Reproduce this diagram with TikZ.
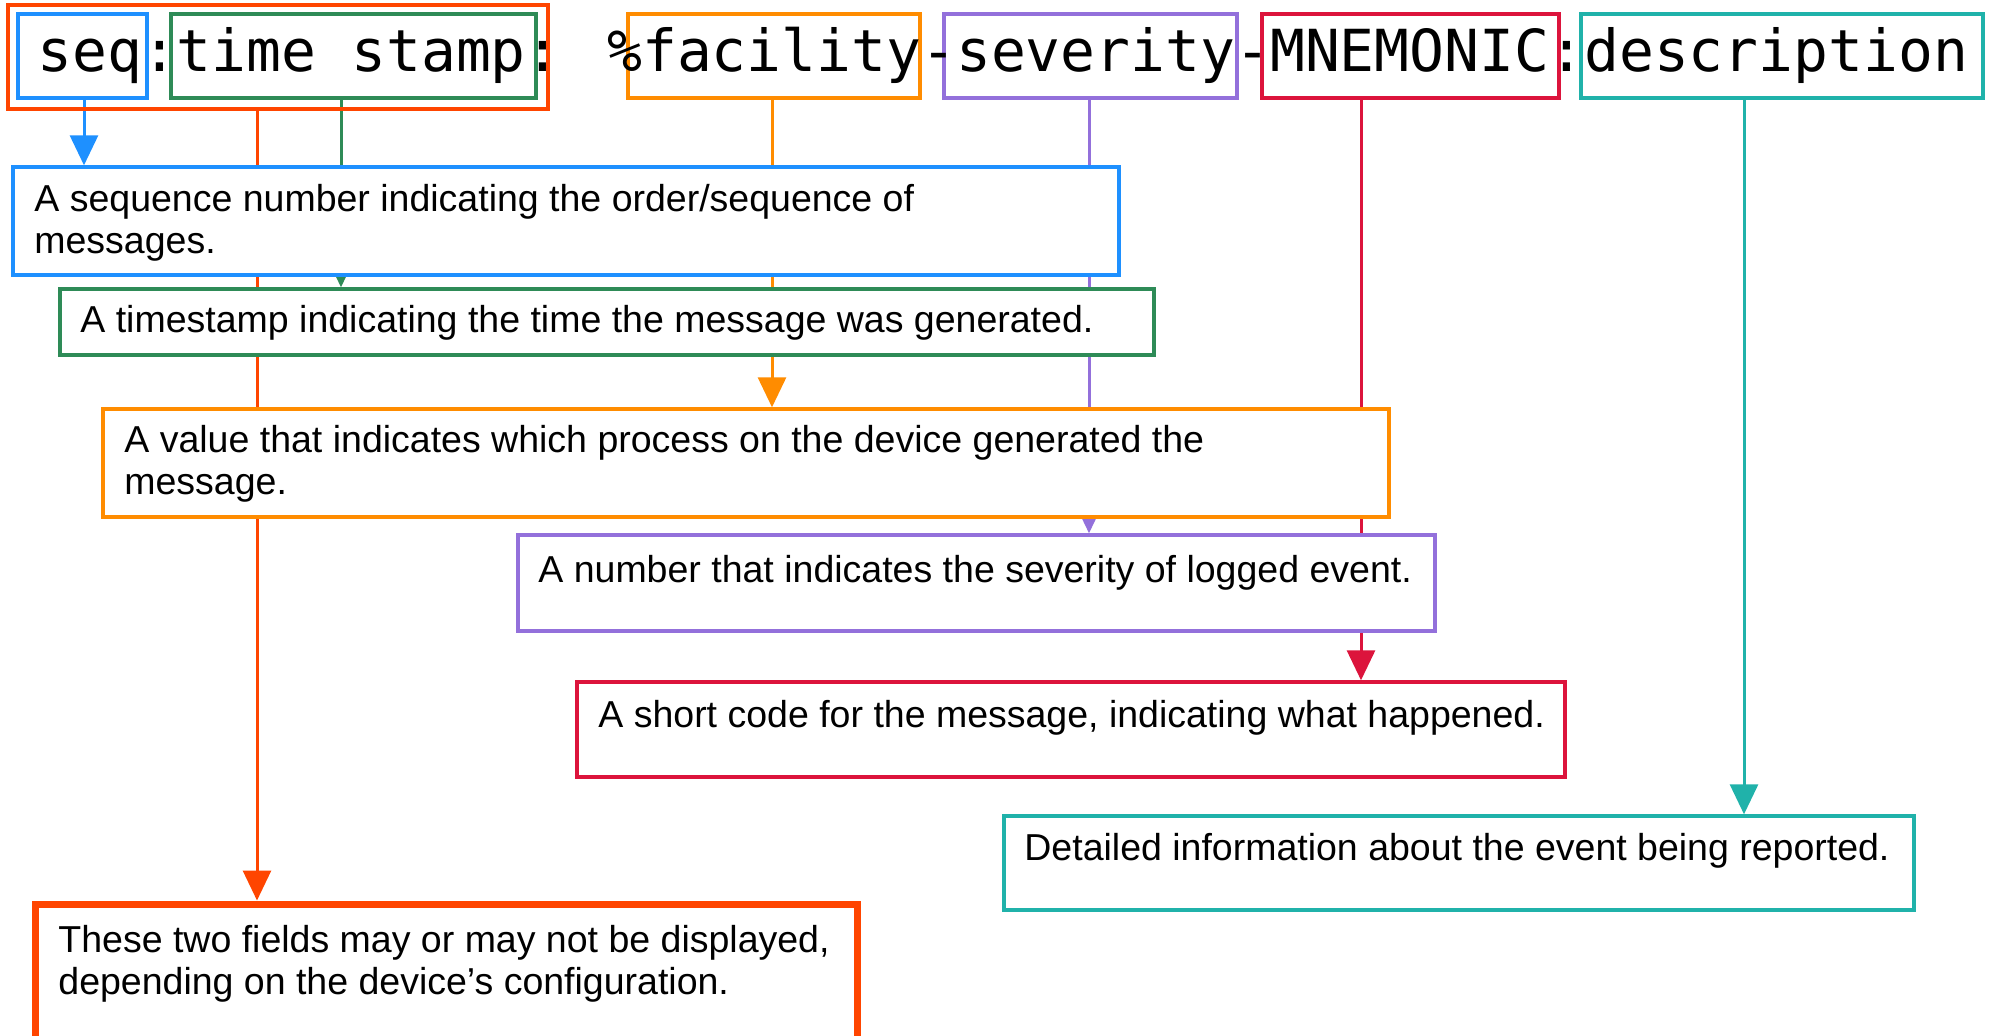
\documentclass[tikz,border=0pt]{standalone}
\usepackage{fontspec}
\setmainfont{Liberation Sans}
\newfontfamily\monofont{DejaVu Sans Mono}
\usetikzlibrary{arrows.meta,fit}
\pgfdeclarelayer{background}
\pgfsetlayers{background,main}
\definecolor{cblue}{HTML}{1E90FF}
\definecolor{cgreen}{HTML}{2E8B57}
\definecolor{corange}{HTML}{FF8C00}
\definecolor{cpurple}{HTML}{9370DB}
\definecolor{cred}{HTML}{DC143C}
\definecolor{cteal}{HTML}{20B2AA}
\definecolor{corred}{HTML}{FF4500}
\begin{document}
\begin{tikzpicture}[x=0.5pt,y=-0.5pt,
  box/.style={draw, line width=1.7pt, fill=white, inner sep=0pt},
  conn/.style={line width=1.5pt, -{Triangle[length=15pt,width=14pt]}},
  desctext/.style={anchor=base west, inner sep=0pt, font=\fontsize{18.75pt}{21pt}\selectfont}]
\useasboundingbox (0,0) rectangle (1995,1036);
\clip (0,0) rectangle (1995,1036);

% top field boxes
\node[box, draw=corred, line width=2pt, fill=none, fit={(8,5) (548,109)}] (outer) {};
\node[box, draw=cblue, fit={(18,14) (147,98)}] (seq) {};
\node[box, draw=cgreen, fit={(171,14) (536,98)}] (ts) {};
\node[box, draw=corange, fit={(628,14) (920,98)}] (fac) {};
\node[box, draw=cpurple, fit={(944,14) (1237,98)}] (sev) {};
\node[box, draw=cred, fit={(1262,14) (1559,98)}] (mn) {};
\node[box, draw=cteal, fit={(1581,14) (1983,98)}] (desc) {};
\node[anchor=base west, inner sep=0pt, font=\monofont\fontsize{28.98pt}{35pt}\selectfont]
  (msg) at (37,72) {seq:time stamp: \%facility-severity-MNEMONIC:description};

% description boxes
\node[box, draw=cblue, fit={(13,167) (1119,275)}] (d1) {};
\node[box, draw=cgreen, fit={(60,289) (1154,355)}] (d2) {};
\node[box, draw=corange, fit={(103,409) (1389,517)}] (d3) {};
\node[box, draw=cpurple, fit={(518,535) (1435,631)}] (d4) {};
\node[box, draw=cred, fit={(577,682) (1565,777)}] (d5) {};
\node[box, draw=cteal, fit={(1004,816) (1914,910)}] (d6) {};
\node[box, draw=corred, line width=3.5pt, fit={(35,904) (857,1070)}] (d7) {};

% texts
\node[desctext] (t1) at (34,212) {\parbox[t]{1100pt}{A sequence number indicating the order/sequence of\\messages.}};
\node[desctext] (t2) at (80,333) {A timestamp indicating the time the message was generated.};
\node[desctext] (t3) at (124,453) {\parbox[t]{1100pt}{A value that indicates which process on the device generated the\\message.}};
\node[desctext] (t4) at (538,582) {A number that indicates the severity of logged event.};
\node[desctext] (t5) at (598,727) {A short code for the message, indicating what happened.};
\node[desctext] (t6) at (1024,860) {Detailed information about the event being reported.};
\node[desctext] (t7) at (58,952) {\parbox[t]{1100pt}{These two fields may or may not be displayed,\\depending on the device’s configuration.}};

% connector x positions
\coordinate (xb) at (84,0);
\coordinate (xo) at (257,0);
\coordinate (xg) at (341,0);
\coordinate (xf) at (772,0);
\coordinate (xs) at (1089,0);
\coordinate (xm) at (1361,0);
\coordinate (xd) at (1744,0);

\begin{pgfonlayer}{background}
\draw[conn, cblue] (seq.south -| xb) -- (d1.north -| xb);
\draw[conn, corred] (outer.south -| xo) -- (d7.north -| xo);
\draw[conn, cgreen] (ts.south -| xg) -- (d2.north -| xg);
\draw[conn, corange] (fac.south -| xf) -- (d3.north -| xf);
\draw[conn, cpurple] (sev.south -| xs) -- (d4.north -| xs);
\draw[conn, cred] (mn.south -| xm) -- (d5.north -| xm);
\draw[conn, cteal] (desc.south -| xd) -- (d6.north -| xd);
\end{pgfonlayer}
\end{tikzpicture}
\end{document}
